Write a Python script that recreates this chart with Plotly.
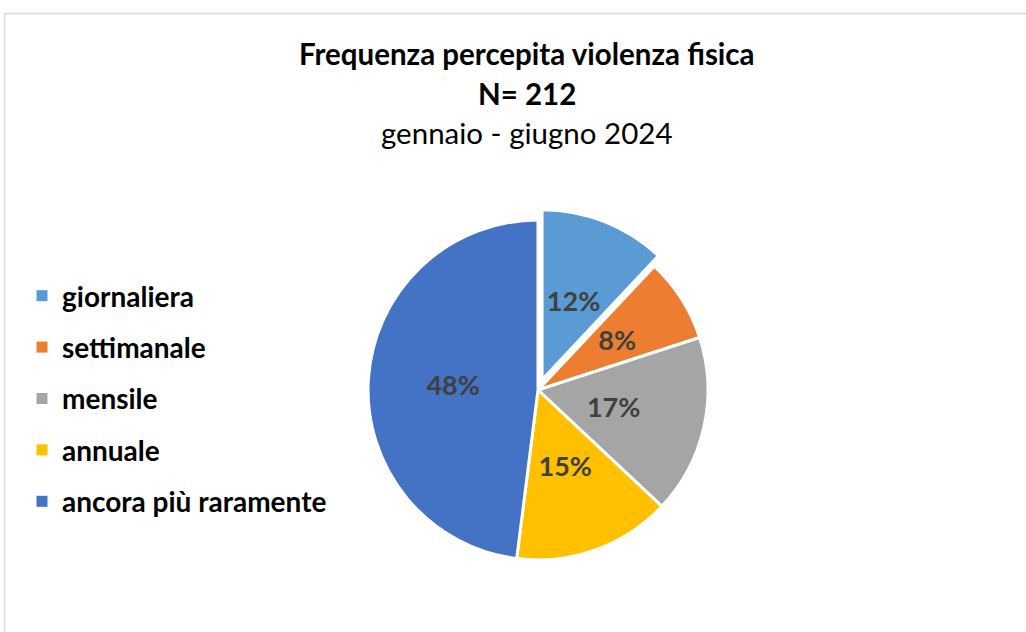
import plotly.graph_objects as go

categories = ["giornaliera", "settimanale", "mensile", "annuale", "ancora più raramente"]
percentages = [12, 8, 17, 15, 48]
colors = ["#5B9BD5", "#ED7D31", "#A5A5A5", "#FFC000", "#4472C4"]
pulls = [0.065, 0, 0, 0, 0]

title_line1 = "Frequenza percepita violenza fisica"
title_line2 = "N= 212"
title_line3 = "gennaio - giugno 2024"

FONT = "Lato"
W, H = 1026, 632

# pie geometry (pixels)
CX, CY = 538, 390
HALF_MAIN = 181
HALF_LBL = 128
PULL_LBL = 0.094

def dom(half):
    return dict(x=[(CX - half) / W, (CX + half) / W], y=[1 - (CY + half) / H, 1 - (CY - half) / H])

label_font = dict(family=FONT, size=27, color="#404040", weight="bold")

# main pie (only the big slice carries its label here)
fig = go.Figure()
fig.add_trace(go.Pie(
    labels=categories,
    values=percentages,
    sort=False,
    direction="clockwise",
    rotation=0,
    pull=pulls,
    marker=dict(colors=colors, line=dict(color="white", width=3)),
    texttemplate=["" if v < 40 else "%{value}%" for v in percentages],
    textposition="inside",
    insidetextorientation="horizontal",
    textfont=label_font,
    showlegend=False,
    domain=dom(HALF_MAIN),
    hoverinfo="label+percent",
))

# transparent inner pie carrying the labels of the smaller slices (closer to the centre, as in the original)
fig.add_trace(go.Pie(
    labels=categories,
    values=percentages,
    sort=False,
    direction="clockwise",
    rotation=0,
    pull=[PULL_LBL if p > 0 else 0 for p in pulls],
    marker=dict(colors=["rgba(0,0,0,0)"] * len(categories), line=dict(width=0)),
    texttemplate=["%{value}%" if v < 40 else "" for v in percentages],
    textposition="inside",
    insidetextorientation="horizontal",
    textfont=label_font,
    showlegend=False,
    domain=dom(HALF_LBL),
    hoverinfo="skip",
))

# legend entries (one per category, spaced like the original)
for i, (cat, col) in enumerate(zip(categories, colors)):
    fig.add_trace(go.Scatter(
        x=[None], y=[None], mode="markers",
        marker=dict(symbol="square", size=11, color=col),
        name=cat, legendgroup=f"g{i}", showlegend=True,
    ))

fig.update_xaxes(visible=False)
fig.update_yaxes(visible=False)

title_font = dict(family=FONT, size=29.5, color="#000000")
fig.add_annotation(text=f"<b>{title_line1}</b>", x=527 / W, y=1 - 53 / H, xref="paper", yref="paper",
                   showarrow=False, font=title_font, xanchor="center", yanchor="middle")
fig.add_annotation(text=f"<b>{title_line2}</b>", x=527 / W, y=1 - 93 / H, xref="paper", yref="paper",
                   showarrow=False, font=title_font, xanchor="center", yanchor="middle")
fig.add_annotation(text=title_line3, x=527 / W, y=1 - 132 / H, xref="paper", yref="paper",
                   showarrow=False, font=title_font, xanchor="center", yanchor="middle")

fig.add_shape(type="rect", xref="paper", yref="paper",
              x0=4.5 / W, x1=1.02, y0=-0.03, y1=1 - 13.5 / H,
              line=dict(color="#D9D9D9", width=1.5), fillcolor="rgba(0,0,0,0)", layer="below")

fig.update_layout(
    width=W, height=H,
    margin=dict(l=0, r=0, t=0, b=0),
    paper_bgcolor="white", plot_bgcolor="white",
    uniformtext=dict(minsize=27, mode="show"),
    legend=dict(
        x=22 / W, y=1 - 271 / H, xanchor="left", yanchor="top",
        font=dict(family=FONT, size=28, color="#000000", weight="bold"),
        tracegroupgap=12, bgcolor="rgba(0,0,0,0)",
        itemclick=False, itemdoubleclick=False,
    ),
)

fig.write_html("out.html", config={"displayModeBar": False},
               post_script="document.body.style.margin='0';")
